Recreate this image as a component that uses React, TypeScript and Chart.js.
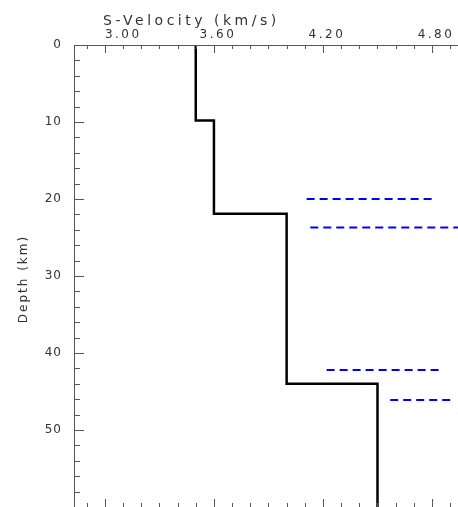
import React, { useEffect, useRef } from "react";
import { Chart, registerables } from "chart.js";

Chart.register(...registerables);

// Velocity model layers
const layerVelocity = [3.5, 3.6, 4.0, 4.5];
const layerTopDepth = [0, 9.8, 21.9, 44.0];
const maxDepth = 60;

// Blue dashed reference segments
const dashDepth = [20.0, 23.7, 42.2, 46.1];
const dashStartVel = [4.11, 4.13, 4.22, 4.57];
const dashEndVel = [4.80, 4.95, 4.85, 4.90];

// Axis ticks
const xMajorTicks = [3.0, 3.6, 4.2, 4.8];
const xTickLabels = ["3.00", "3.60", "4.20", "4.80"];
const xMinorTicks = [2.9, 3.1, 3.2, 3.3, 3.4, 3.5, 3.7, 3.8, 3.9, 4.0, 4.1, 4.3, 4.4, 4.5, 4.6, 4.7, 4.9];
const yMajorTicks = [0, 10, 20, 30, 40, 50];
const yMinorTicks = [2, 4, 6, 8, 12, 14, 16, 18, 22, 24, 26, 28, 32, 34, 36, 38, 42, 44, 46, 48, 52, 54, 56, 58];

const xTitle = "S-Velocity (km/s)";
const yTitle = "Depth (km)";

function buildProfile() {
  const pts: { x: number; y: number }[] = [];
  for (let i = 0; i < layerVelocity.length; i++) {
    const top = layerTopDepth[i];
    const bottom = i + 1 < layerTopDepth.length ? layerTopDepth[i + 1] : maxDepth;
    pts.push({ x: layerVelocity[i], y: top });
    pts.push({ x: layerVelocity[i], y: bottom });
  }
  return pts;
}

const axesPlugin = {
  id: "customAxes",
  afterDatasetsDraw(chart: any) {
    const ctx = chart.ctx;
    const xs = chart.scales.x;
    const ys = chart.scales.y;
    const { left, top, right, bottom } = chart.chartArea;
    ctx.save();
    ctx.strokeStyle = "#555";
    ctx.lineWidth = 1;
    // frame lines
    ctx.beginPath();
    ctx.moveTo(left + 0.5, bottom);
    ctx.lineTo(left + 0.5, top + 0.5);
    ctx.lineTo(right, top + 0.5);
    ctx.stroke();
    // x ticks top & bottom
    const xt = (v: number, len: number) => {
      const px = Math.round(xs.getPixelForValue(v)) + 0.5;
      ctx.beginPath();
      ctx.moveTo(px, top);
      ctx.lineTo(px, top + len);
      ctx.moveTo(px, bottom);
      ctx.lineTo(px, bottom - len);
      ctx.stroke();
    };
    xMinorTicks.forEach((v) => xt(v, 4));
    xMajorTicks.forEach((v) => xt(v, 8));
    const yt = (v: number, len: number) => {
      const py = Math.round(ys.getPixelForValue(v)) + 0.5;
      ctx.beginPath();
      ctx.moveTo(left, py);
      ctx.lineTo(left + len, py);
      ctx.stroke();
    };
    yMinorTicks.forEach((v) => yt(v, 6));
    yMajorTicks.forEach((v) => yt(v, 10));

    ctx.fillStyle = "#333";
    ctx.font = "12px 'DejaVu Sans'";
    (ctx as any).letterSpacing = "2.5px";
    ctx.textAlign = "left";
    ctx.textBaseline = "alphabetic";
    xMajorTicks.forEach((v, i) => {
      const px = xs.getPixelForValue(v);
      const w = ctx.measureText(xTickLabels[i]).width;
      let x0 = px + 4 - w / 2;
      if (x0 < left + 30) x0 = px;
      ctx.fillText(xTickLabels[i], x0, top - 7);
    });
    (ctx as any).letterSpacing = "1px";
    ctx.textAlign = "right";
    ctx.textBaseline = "middle";
    yMajorTicks.forEach((v) => {
      const py = ys.getPixelForValue(v);
      ctx.fillText(String(v), left - 12, py);
    });
    // titles
    ctx.font = "14px 'DejaVu Sans'";
    (ctx as any).letterSpacing = "3.5px";
    ctx.textAlign = "left";
    ctx.textBaseline = "alphabetic";
    ctx.fillText(xTitle, 103, 25);
    ctx.translate(27, 279);
    ctx.rotate(-Math.PI / 2);
    ctx.textAlign = "center";
    ctx.font = "12px 'DejaVu Sans'";
    (ctx as any).letterSpacing = "2px";
    ctx.fillText(yTitle, 0, 0);
    ctx.restore();
  },
};

export default function App() {
  const ref = useRef<HTMLCanvasElement | null>(null);
  useEffect(() => {
    document.body.style.margin = "0";
    if (!ref.current) return;
    const dashSets = dashDepth.map((d, i) => ({
      data: [
        { x: dashStartVel[i], y: d },
        { x: dashEndVel[i], y: d },
      ],
      borderColor: "#0000ff",
      borderWidth: 2,
      borderDash: [8, 5],
      pointRadius: 0,
      showLine: true,
      fill: false,
    }));
    const chart = new Chart(ref.current, {
      type: "scatter",
      data: {
        datasets: [
          {
            data: buildProfile(),
            borderColor: "#000",
            borderWidth: 2.5,
            pointRadius: 0,
            showLine: true,
            fill: false,
          },
          ...dashSets,
        ] as any,
      },
      options: {
        animation: false,
        responsive: false,
        layout: { padding: { left: 74, top: 45, right: 0, bottom: 0 } },
        plugins: { legend: { display: false }, tooltip: { enabled: false } },
        scales: {
          x: { type: "linear", min: 2.83, max: 4.943, display: false },
          y: { type: "linear", min: 0, max: maxDepth, reverse: true, display: false },
        },
      },
      plugins: [axesPlugin],
    });
    return () => chart.destroy();
  }, []);
  return <canvas ref={ref} width={458} height={507} style={{ display: "block" }} />;
}
